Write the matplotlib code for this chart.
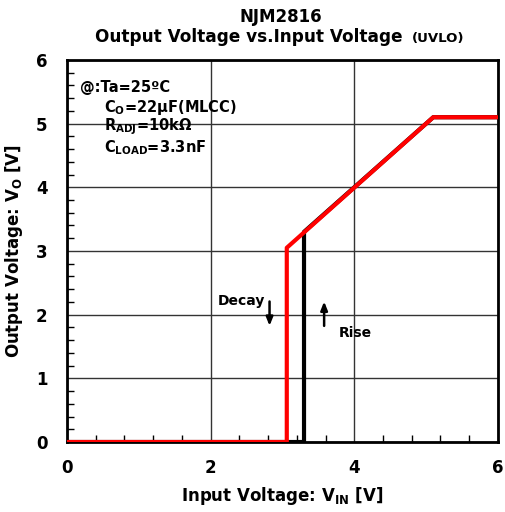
import matplotlib
matplotlib.use('Agg')
import matplotlib.pyplot as plt
from matplotlib.ticker import MultipleLocator

plt.rcParams['font.family'] = ['DejaVu Sans']
plt.rcParams['font.weight'] = 'bold'
plt.rcParams['mathtext.fontset'] = 'custom'
plt.rcParams['mathtext.rm'] = 'DejaVu Sans:bold'
plt.rcParams['mathtext.it'] = 'DejaVu Sans:bold'
plt.rcParams['mathtext.bf'] = 'DejaVu Sans:bold'

# rise curve (black) and decay curve (red)
vin_rise = [0.0, 3.30, 3.30, 5.10, 6.0]
vo_rise = [0.0, 0.0, 3.30, 5.10, 5.10]
vin_decay = [0.0, 3.06, 3.06, 5.10, 6.0]
vo_decay = [0.0, 0.0, 3.05, 5.10, 5.10]

fig = plt.figure(figsize=(5.05, 5.12), dpi=100)
ax = fig.add_axes([0.1327, 0.1367, 0.986 - 0.1327, 0.883 - 0.1367])

ax.plot(vin_rise, vo_rise, color='black', lw=3, zorder=3)
ax.plot(vin_decay, vo_decay, color='#ff0000', lw=3, zorder=4)

ax.set_xlim(0, 6)
ax.set_ylim(0, 6)
ax.xaxis.set_major_locator(MultipleLocator(2))
ax.xaxis.set_minor_locator(MultipleLocator(0.4))
ax.yaxis.set_major_locator(MultipleLocator(1))
ax.yaxis.set_minor_locator(MultipleLocator(0.2))
ax.tick_params(which='both', direction='in', top=False, right=False)
ax.tick_params(which='major', length=0, labelsize=12)
ax.tick_params(axis='x', which='major', pad=12)
ax.tick_params(axis='y', which='major', pad=14)
ax.tick_params(which='minor', length=5, width=1)
for t in ax.get_xticklabels() + ax.get_yticklabels():
    t.set_fontweight('bold')
ax.grid(True, which='major', color='#333333', lw=1)
for s in ax.spines.values():
    s.set_linewidth(2)

ax.set_xlabel('Input Voltage: V$_{IN}$ [V]', fontsize=12, fontweight='bold', labelpad=6)
ax.set_ylabel('Output Voltage: V$_{O}$ [V]', fontsize=12, fontweight='bold', labelpad=8)

fig.text(0.556, 0.966, 'NJM2816', ha='center', va='center', fontsize=12, fontweight='bold')
fig.text(0.188, 0.918, 'Output Voltage vs.Input Voltage', ha='left', va='baseline',
         fontsize=12.2, fontweight='bold')
fig.text(0.815, 0.918, '(UVLO)', ha='left', va='baseline', fontsize=9.5, fontweight='bold')

ax.text(0.18, 5.57, '@:Ta=25ºC', fontsize=10.5, fontweight='bold', va='center')
ax.text(0.52, 5.26, 'C$_{O}$=22µF(MLCC)', fontsize=10.5, fontweight='bold', va='center')
ax.text(0.52, 4.95, 'R$_{ADJ}$=10kΩ', fontsize=10.5, fontweight='bold', va='center')
ax.text(0.52, 4.63, 'C$_{LOAD}$=3.3nF', fontsize=10.5, fontweight='bold', va='center')

ax.annotate('', xy=(2.82, 1.78), xytext=(2.82, 2.25),
            arrowprops=dict(arrowstyle='-|>,head_width=0.2,head_length=0.5', color='black', lw=1.8, mutation_scale=10))
ax.annotate('', xy=(3.58, 2.25), xytext=(3.58, 1.78),
            arrowprops=dict(arrowstyle='-|>,head_width=0.2,head_length=0.5', color='black', lw=1.8, mutation_scale=10))
ax.text(2.1, 2.21, 'Decay', fontsize=10, fontweight='bold', va='center')
ax.text(3.79, 1.71, 'Rise', fontsize=10, fontweight='bold', va='center')

fig.savefig('out.png', dpi=100)
